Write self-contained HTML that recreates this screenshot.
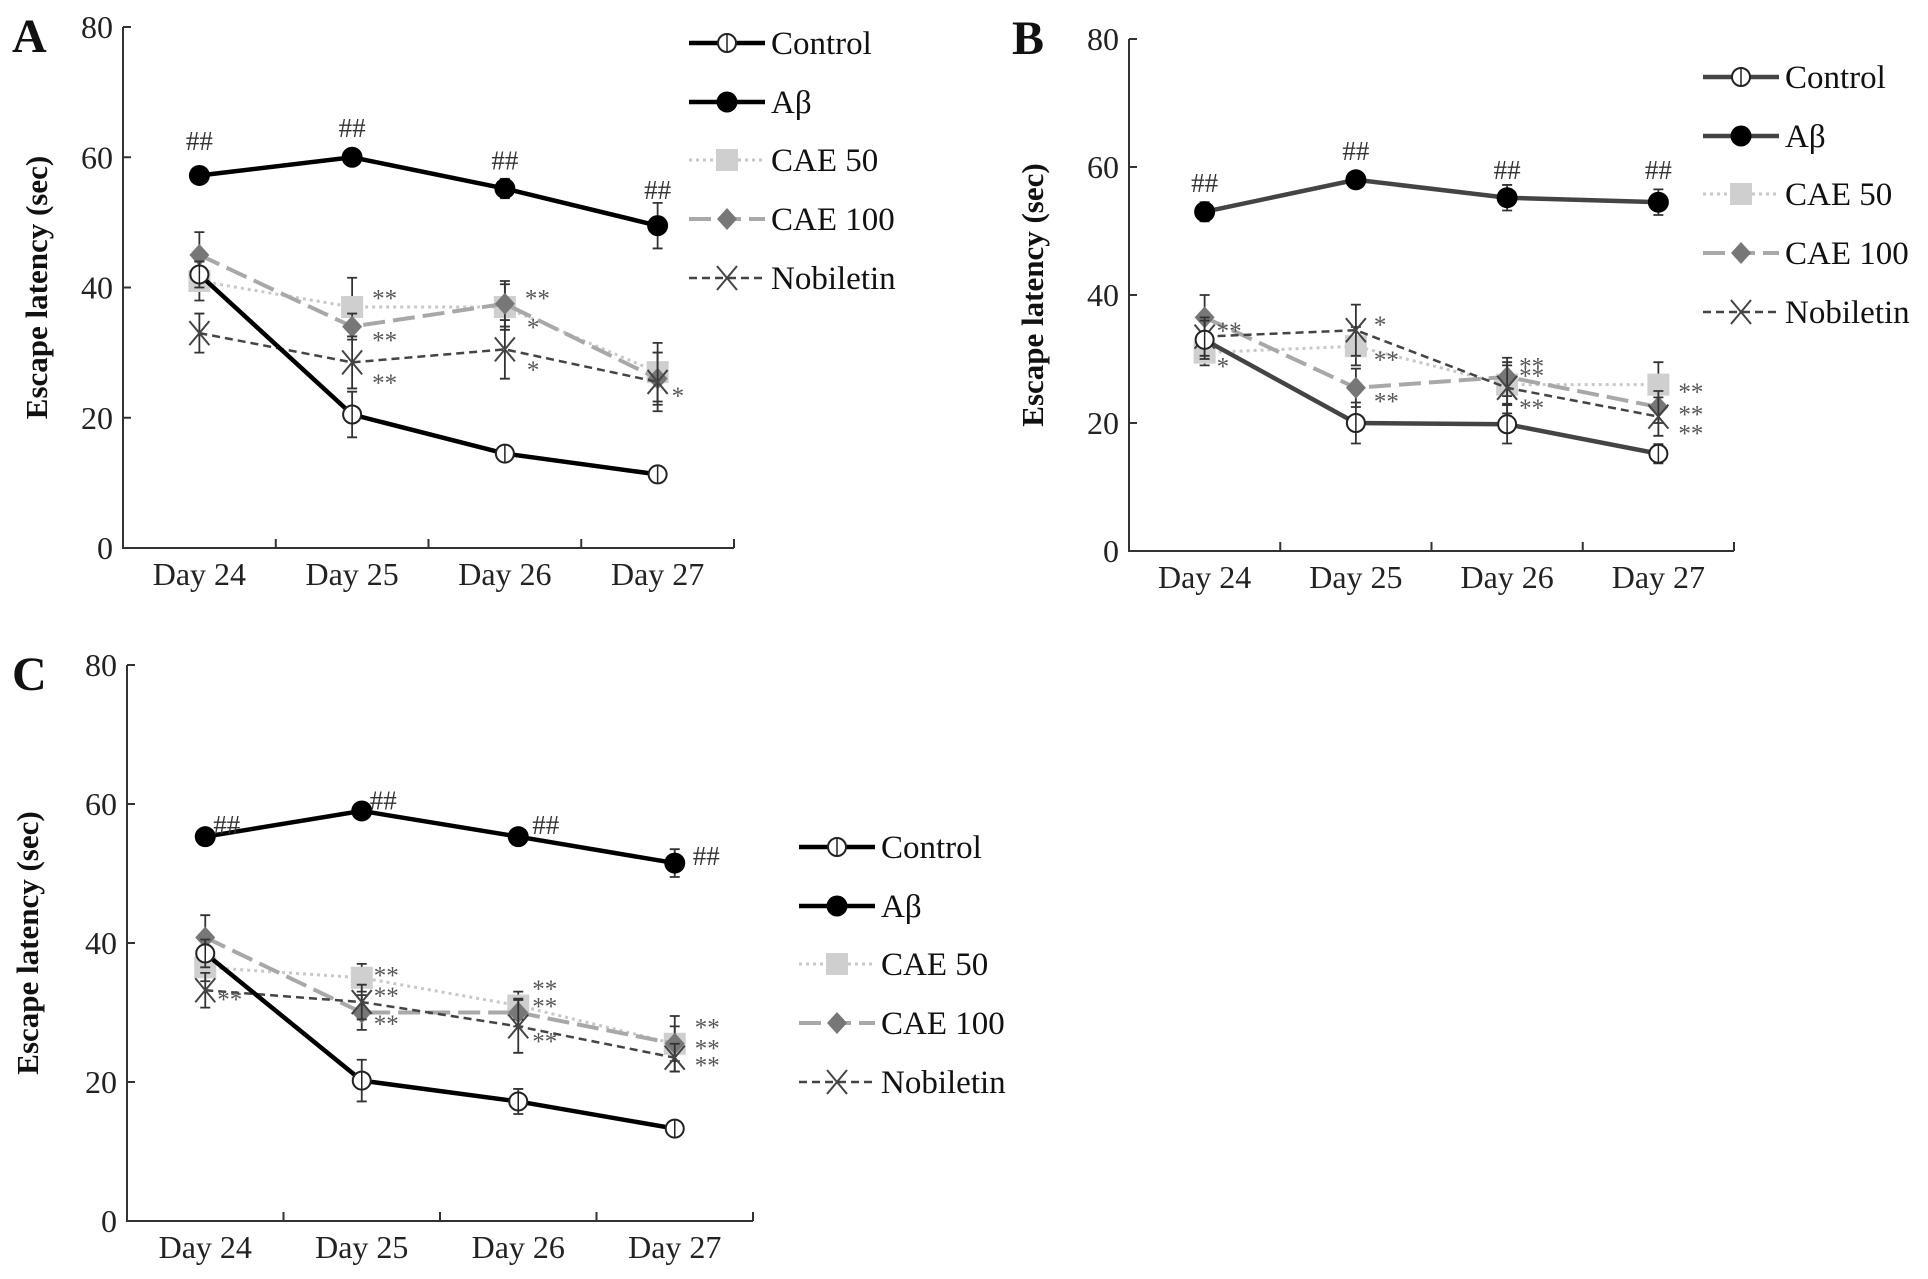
<!DOCTYPE html>
<html><head><meta charset="utf-8"><style>
body{margin:0;background:#fff}
svg{display:block;font-family:"Liberation Serif",serif}
</style></head><body>
<svg id="fig" width="1928" height="1279" viewBox="0 0 1928 1279"></svg>
<script>
const days=["Day 24","Day 25","Day 26","Day 27"];
const yTicks=[0,20,40,60,80];
const seriesNames=["Control","Aβ","CAE 50","CAE 100","Nobiletin"];
// Panel A
const aControl=[42,20.5,14.5,11.3], aControlErr=[2,3.5,1,1];
const aAbeta=[57.2,60,55.2,49.5], aAbetaErr=[1,1,1.5,3.5];
const aCae50=[41,37,37,27], aCae50Err=[3,4.5,3.5,4.5];
const aCae100=[45,34,37.5,26], aCae100Err=[3.5,2,3.5,4];
const aNob=[33,28.5,30.5,25.5], aNobErr=[3,4,4.5,4.5];
// Panel B
const bControl=[33,20,19.8,15.2], bControlErr=[3,3.2,3,1.5];
const bAbeta=[53,58,55.2,54.5], bAbetaErr=[1.5,1,2,2];
const bCae50=[31,32,26,26], bCae50Err=[2,3,3,3.5];
const bCae100=[36.5,25.5,27.2,22.5], bCae100Err=[3.5,3,3,2.5];
const bNob=[33.5,34.5,25.5,21], bNobErr=[3,4,4,3];
// Panel C
const cControl=[38.5,20.2,17.2,13.3], cControlErr=[2,3,1.8,0.8];
const cAbeta=[55.3,59,55.3,51.5], cAbetaErr=[0.8,0.8,0.8,2];
const cCae50=[36.5,35,31,25.5], cCae50Err=[2,2,2,2.5];
const cCae100=[40.8,30,30,25.5], cCae100Err=[3.2,2.5,2,4];
const cNob=[33.2,31.5,28,23.5], cNobErr=[2.5,2.5,3.8,2];

const NS="http://www.w3.org/2000/svg";
const svg=document.getElementById('fig');
function el(tag,attrs,parent,text){const e=document.createElementNS(NS,tag);for(const k in attrs)e.setAttribute(k,attrs[k]);if(text!==undefined)e.textContent=text;(parent||svg).appendChild(e);return e;}

function panel(cfg){
  const g=el('g',{});
  
  
  const x0=cfg.x0,x1=cfg.x1,y0=cfg.y0,y80=cfg.y80;
  const ys=v=>y0-(v/80)*(y0-y80);
  const step=(x1-x0)/4;
  const xs=i=>x0+step*(i+0.5);
  const ax=el('path',{d:`M${x0},${y80} V${y0} H${x1}`,stroke:'#333','stroke-width':2,fill:'none'},g);
  
  yTicks.forEach(t=>{
    el('line',{x1:x0,x2:x0+8,y1:ys(t),y2:ys(t),stroke:'#333','stroke-width':2},g);
    const tl=el('text',{x:x0-10,y:ys(t)+11,'text-anchor':'end','font-size':32,fill:'#222'},g,String(t));
    
  });
  for(let i=1;i<=4;i++)el('line',{x1:x0+step*i,x2:x0+step*i,y1:y0,y2:y0-9,stroke:'#333','stroke-width':2},g);
  days.forEach((d,i)=>{
    const tl=el('text',{x:xs(i),y:y0+37,'text-anchor':'middle','font-size':32,fill:'#222'},g,d);
    
  });
  const yt=el('text',{x:0,y:0,transform:`translate(${cfg.titleX},${(y0+y80)/2}) rotate(-90)`,'text-anchor':'middle','font-size':31,'font-weight':'bold',fill:'#111'},g,'Escape latency (sec)');
  
  const lt=el('text',{x:cfg.lx,y:cfg.ly,'font-size':48,'font-weight':'bold',fill:'#111'},g,cfg.letter);
  

  const styles=[
    {stroke:cfg.dark,w:4.5,dash:'',mk:'open'},
    {stroke:cfg.dark,w:4.5,dash:'',mk:'fill'},
    {stroke:'#c8c8c8',w:3,dash:'3 4',mk:'sq'},
    {stroke:'#a8a8a8',w:4,dash:'22 8',mk:'dia'},
    {stroke:'#444',w:2.5,dash:'8 5',mk:'x'}
  ];
  function marker(x,y,mk,parent){
    if(mk==='open'){el('circle',{cx:x,cy:y,r:9,fill:'#fff',stroke:'#222','stroke-width':2},parent);el('line',{x1:x,x2:x,y1:y-9,y2:y+9,stroke:'#222','stroke-width':1.5},parent);}
    else if(mk==='fill')el('circle',{cx:x,cy:y,r:10.5,fill:'#000'},parent);
    else if(mk==='sq')el('rect',{x:x-11,y:y-11,width:22,height:22,fill:'#cfcfcf'},parent);
    else if(mk==='dia')el('path',{d:`M${x},${y-11} L${x+10},${y} L${x},${y+11} L${x-10},${y}Z`,fill:'#777'},parent);
    else {el('path',{d:`M${x-10},${y-12} L${x+10},${y+12} M${x+10},${y-12} L${x-10},${y+12}`,stroke:'#444','stroke-width':2},parent);}
  }
  const order=[2,3,4,0,1];
  order.forEach(si=>{
    const vals=cfg.data[si],errs=cfg.err[si],st=styles[si];
    const sg=el('g',{},g);
    
    
    vals.forEach((v,i)=>{
      const x=xs(i);
      el('path',{d:`M${x},${ys(v-errs[i])} V${ys(v+errs[i])} M${x-5},${ys(v-errs[i])} h10 M${x-5},${ys(v+errs[i])} h10`,stroke:'#333','stroke-width':1.8,fill:'none'},sg);
    });
    const p=el('polyline',{points:vals.map((v,i)=>xs(i)+','+ys(v)).join(' '),fill:'none',stroke:st.stroke,'stroke-width':st.w,'stroke-dasharray':st.dash},sg);
    
    vals.forEach((v,i)=>marker(xs(i),ys(v),st.mk,sg));
  });
  cfg.ann.forEach(a=>{
    const t=el('text',{x:xs(a[0])+a[3],y:ys(a[1])+9,'text-anchor':a[3]===0?'middle':'start','font-size':a[2][0]==='#'?27:25,fill:a[2][0]==='#'?'#333':'#555'},g,a[2]);
    
  });
  seriesNames.forEach((n,i)=>{
    const st=styles[i],y=cfg.legY[i];
    const lg=el('g',{},g);
    
    el('line',{x1:cfg.legX,x2:cfg.legX+76,y1:y,y2:y,stroke:st.stroke,'stroke-width':st.w,'stroke-dasharray':st.dash},lg);
    marker(cfg.legX+38,y,st.mk,lg);
    el('text',{x:cfg.legX+82,y:y+11,'font-size':33,fill:'#111'},lg,n);
  });
}

panel({letter:'A',x0:123,x1:734,y0:548,y80:27,titleX:47,lx:12,ly:52,dark:'#000',
  data:[aControl,aAbeta,aCae50,aCae100,aNob],err:[aControlErr,aAbetaErr,aCae50Err,aCae100Err,aNobErr],
  legX:689,legY:[43,102,160,219,278],
  ann:[[0,62.5,'##',0],[1,64.5,'##',0],[2,59.5,'##',0],[3,55,'##',0],
       [1,38.5,'**',20],[1,32,'**',20],[1,25.5,'**',20],[2,38.5,'**',20],[2,34,'*',22],[2,27.5,'*',22],[3,23.5,'*',14]]});
panel({letter:'B',x0:1129,x1:1734,y0:551,y80:39,titleX:1043,lx:1012,ly:54,dark:'#444',
  data:[bControl,bAbeta,bCae50,bCae100,bNob],err:[bControlErr,bAbetaErr,bCae50Err,bCae100Err,bNobErr],
  legX:1703,legY:[77,136,194,253,312],
  ann:[[0,57.5,'##',0],[1,62.5,'##',0],[2,59.5,'##',0],[3,59.5,'##',0],
       [0,34.5,'**',12],[0,29,'*',12],[1,35.5,'*',18],[1,30,'**',18],[1,23.5,'**',18],
       [2,29,'**',12],[2,27.5,'**',12],[2,22.5,'**',12],[3,25,'**',20],[3,21.5,'**',20],[3,18.5,'**',20]]});
panel({letter:'C',x0:127,x1:753,y0:1221,y80:665,titleX:38,lx:12,ly:690,dark:'#000',
  data:[cControl,cAbeta,cCae50,cCae100,cNob],err:[cControlErr,cAbetaErr,cCae50Err,cCae100Err,cNobErr],
  legX:799,legY:[847,906,964,1023,1082],
  ann:[[0,57,'##',8],[1,60.5,'##',8],[2,57,'##',14],[3,52.5,'##',18],
       [0,32,'**',12],[1,35.5,'**',12],[1,32.5,'**',12],[1,28.5,'**',12],
       [2,33.5,'**',14],[2,31,'**',14],[2,26,'**',14],[3,28,'**',20],[3,25,'**',20],[3,22.5,'**',20]]});
</script>
</body></html>
